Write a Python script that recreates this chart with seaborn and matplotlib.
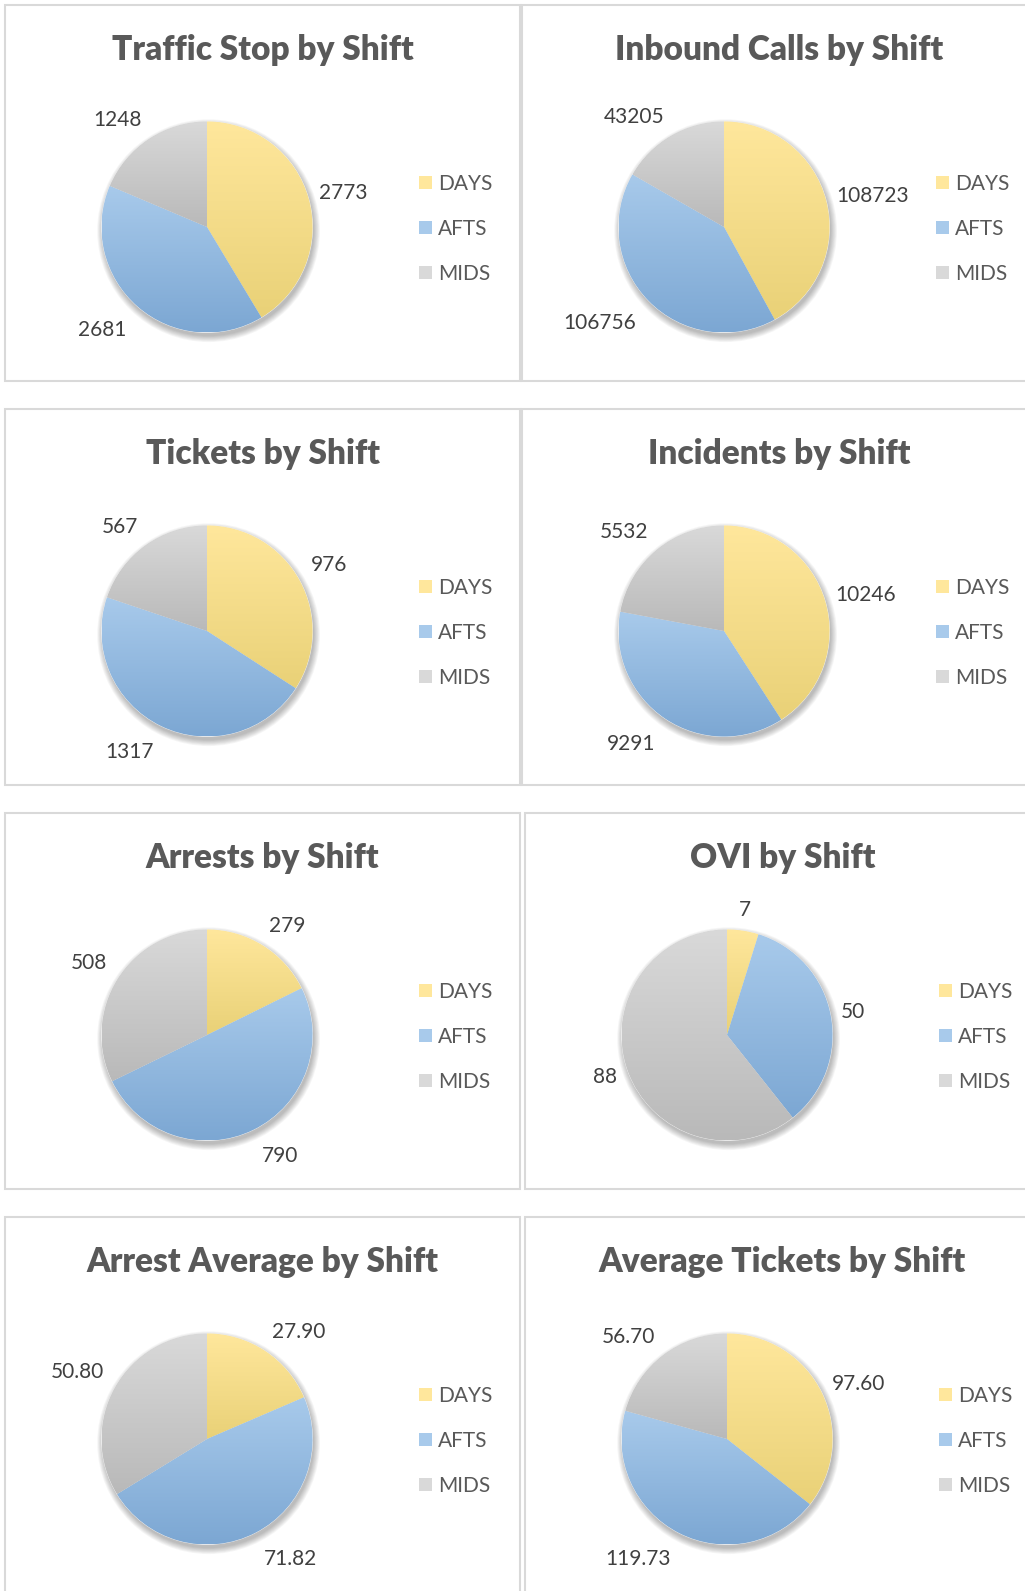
import matplotlib
matplotlib.use("Agg")
import matplotlib.pyplot as plt
from matplotlib.patches import Rectangle, Circle, Patch
import seaborn as sns
import numpy as np

sns.set_style("white")
plt.rcParams['font.family'] = ['Lato', 'DejaVu Sans']

# data
shifts = ["DAYS", "AFTS", "MIDS"]
titles = ["Traffic Stop by Shift", "Inbound Calls by Shift", "Tickets by Shift",
          "Incidents by Shift", "Arrests by Shift", "OVI by Shift",
          "Arrest Average by Shift", "Average Tickets by Shift"]
traffic_stop = [2773, 2681, 1248]
inbound_calls = [108723, 106756, 43205]
tickets = [976, 1317, 567]
incidents = [10246, 9291, 5532]
arrests = [279, 790, 508]
ovi = [7, 50, 88]
arrest_avg = [27.90, 71.82, 50.80]
avg_tickets = [97.60, 119.73, 56.70]
all_values = [traffic_stop, inbound_calls, tickets, incidents, arrests, ovi,
              arrest_avg, avg_tickets]
label_fmt = ["{:.0f}"] * 6 + ["{:.2f}"] * 2

# gradient (top, bottom) per shift
grad = {"DAYS": ("#FFE79C", "#E9D177"),
        "AFTS": ("#A8CAEB", "#7CA7D3"),
        "MIDS": ("#D9D9D9", "#B9B9B9")}

W, H = 1025, 1591
fig = plt.figure(figsize=(W / 100, H / 100), dpi=100)
fig.patch.set_facecolor("white")

R = 105.5
panel_w, panel_h = 515, 376
rows_y = [5, 409, 813, 1217]


def fx(x):
    return x / W


def fy(y):
    return 1 - y / H


def hex2rgb(h):
    h = h.lstrip("#")
    return np.array([int(h[i:i + 2], 16) / 255 for i in (0, 2, 4)])


for i, (title, vals) in enumerate(zip(titles, all_values)):
    r, c = divmod(i, 2)
    px0 = 5 if c == 0 else (522 if r < 2 else 525)
    py0 = rows_y[r]

    # panel border
    fig.patches.append(Rectangle((fx(px0), fy(py0 + panel_h)), panel_w / W, panel_h / H,
                                 transform=fig.transFigure, facecolor="white",
                                 edgecolor="#D9D9D9", lw=1.5, zorder=0))
    fig.text(fx(px0 + panel_w / 2), fy(py0 + 45), title, ha="center", va="center",
             fontsize=24, fontweight="heavy", color="#595959")

    cx, cy = px0 + 202, py0 + 222
    half = 1.6 * R
    ax = fig.add_axes([fx(cx - half), fy(cy + half), 2 * half / W, 2 * half / H])
    ax.set_zorder(2)

    # soft shadow
    for k in range(8):
        ax.add_patch(Circle((0.015, -0.035), 1.0 + k * 0.008, color="black",
                            alpha=0.035, lw=0, zorder=0))

    wedges, _ = ax.pie(vals, startangle=90, counterclock=False, radius=1,
                       colors=[grad[s][1] for s in shifts],
                       wedgeprops=dict(edgecolor="#F2F2F2", linewidth=0.6))
    for w, s in zip(wedges, shifts):
        w.set_zorder(1)
        bb = w.get_path().get_extents()
        top, bot = hex2rgb(grad[s][0]), hex2rgb(grad[s][1])
        t = np.linspace(0, 1, 128)[:, None, None]
        img = top[None, None, :] * (1 - t) + bot[None, None, :] * t
        im = ax.imshow(img, extent=[bb.x0, bb.x1, bb.y0, bb.y1], origin="upper",
                       aspect="auto", zorder=2, interpolation="bilinear")
        im.set_clip_path(w)

    # data labels outside end
    total = sum(vals)
    start = 0.0
    for v in vals:
        mid = (start + v / 2) / total * 2 * np.pi
        start += v
        dx, dy = np.sin(mid), np.cos(mid)
        ha = "center" if abs(dx) < 0.3 else ("left" if dx > 0 else "right")
        va = "center" if abs(dy) < 0.45 else ("bottom" if dy > 0 else "top")
        if va == "center":
            lx, ly = 1.1 * dx, 1.2 * dy
        elif va == "bottom":
            lx, ly = 1.12 * dx, 1.1 * dy
        else:
            lx, ly = 1.17 * dx, 1.17 * dy
        ax.text(lx, ly, label_fmt[i].format(v), ha=ha, va=va,
                fontsize=15, color="#404040", zorder=5)

    ax.set_xlim(-1.6, 1.6)
    ax.set_ylim(-1.6, 1.6)
    ax.set_aspect("equal")
    ax.axis("off")

    handles = [Patch(facecolor=grad[s][0], edgecolor="none") for s in shifts]
    ax.legend(handles, shifts, loc="center left",
              bbox_to_anchor=(fx(px0 + 404), fy(py0 + 224)),
              bbox_transform=fig.transFigure, frameon=False, fontsize=15,
              handlelength=0.58, handleheight=0.58, handletextpad=0.3,
              labelspacing=1.2, borderpad=0, labelcolor="#595959")

fig.savefig("out.png", dpi=100, facecolor="white")
